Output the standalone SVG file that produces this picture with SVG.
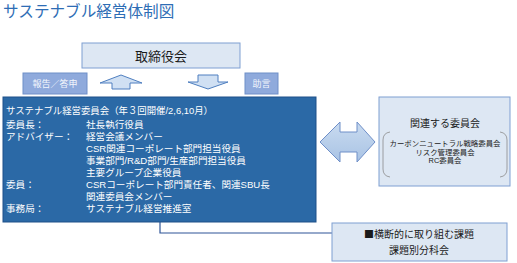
<svg xmlns="http://www.w3.org/2000/svg" width="517" height="263" viewBox="0 0 517 263">
<style>
text{font-family:"Liberation Sans","Noto Sans CJK JP",sans-serif;}
.light{fill:#dde7f3;stroke:#7f9fd2;stroke-width:1;}
.tag{fill:#8faadc;stroke:#6f8fc8;stroke-width:1;}
.tagt{fill:#f4f7fc;font-size:9px;text-anchor:middle;}
.arrow{fill:#d0e0f3;stroke:#4f7fc0;stroke-width:1;}
.wt{fill:#ffffff;font-size:9.6px;}
.dk{fill:#1a1a1a;}
.conn{fill:none;stroke:#2f5597;stroke-width:1.2;}
.cjk{font-family:"Noto Sans CJK JP",sans-serif;}
</style>
<defs>
<linearGradient id="g1" x1="0" y1="0" x2="0" y2="1">
<stop offset="0" stop-color="#c9dbf0"/>
<stop offset="1" stop-color="#a9c3e4"/>
</linearGradient>
</defs>
<text x="3" y="17" font-size="15.6" fill="#2e6db5">サステナブル経営体制図</text>

<g id="connectors">
<polyline class="conn" points="160,222 160,233 332,233"/>
<polygon class="arrow" points="121,75 142,83 130,83 130,89 112,89 112,83 100,83"/>
<polygon class="arrow" points="198,75 218,75 218,82 228,82 208,89 188,82 198,82"/>
<polygon fill="url(#g1)" stroke="#6f8fc8" stroke-width="1" points="320,142 340,122 340,132 357,132 357,122 375,142 357,162 357,152 340,152 340,162"/>
</g>

<g id="board">
<rect class="light" x="82" y="43" width="158" height="25"/>
<text class="dk" x="161" y="60.5" font-size="13" text-anchor="middle">取締役会</text>
</g>

<g id="report">
<rect class="tag" x="23" y="73" width="64" height="21"/>
<text class="tagt" x="55" y="87.2">報告／答申</text>
</g>

<g id="advice">
<rect class="tag" x="245" y="73" width="33" height="21"/>
<text class="tagt" x="261.5" y="87.2">助言</text>
</g>

<g id="committee">
<rect x="3" y="97" width="313" height="125" fill="#2b69a6" stroke="#1f5189" stroke-width="1"/>
<text class="wt" x="6" y="114" textLength="207" lengthAdjust="spacingAndGlyphs">サステナブル経営委員会（年３回開催/2,6,10月）</text>
<text class="wt" x="6" y="127.5">委員長：</text>
<text class="wt" x="86" y="127.5">社長執行役員</text>
<text class="wt" x="6" y="139.5">アドバイザー：</text>
<text class="wt" x="86" y="139.5">経営会議メンバー</text>
<text class="wt" x="86" y="151.5">CSR関連コーポレート部門担当役員</text>
<text class="wt" x="86" y="163.5">事業部門/R&amp;D部門/生産部門担当役員</text>
<text class="wt" x="86" y="175.5">主要グループ企業役員</text>
<text class="wt" x="6" y="187.5">委員：</text>
<text class="wt" x="86" y="187.5">CSRコーポレート部門責任者、関連SBU長</text>
<text class="wt" x="86" y="199.5">関連委員会メンバー</text>
<text class="wt" x="6" y="211.5">事務局：</text>
<text class="wt" x="86" y="211.5">サステナブル経営推進室</text>
</g>

<g id="related">
<rect class="light" x="379" y="97" width="131" height="89"/>
<text class="dk" x="445" y="127" font-size="10" text-anchor="middle">関連する委員会</text>
<path d="M390,132 Q383,133 383,140 L383,169 Q383,176 390,177" fill="none" stroke="#8c8c8c" stroke-width="0.8"/>
<path d="M500,132 Q507,133 507,140 L507,169 Q507,176 500,177" fill="none" stroke="#8c8c8c" stroke-width="0.8"/>
<text class="dk" x="445" y="145.5" font-size="7.4" text-anchor="middle">カーボンニュートラル戦略委員会</text>
<text class="dk" x="445" y="154.5" font-size="7.4" text-anchor="middle">リスク管理委員会</text>
<text class="dk" x="445" y="163" font-size="7.4" text-anchor="middle">RC委員会</text>
</g>

<g id="subcommittee">
<rect class="light" x="332" y="223" width="175" height="38"/>
<text class="dk" x="419" y="238" font-size="10" text-anchor="middle"><tspan class="cjk">■</tspan>横断的に取り組む課題</text>
<text class="dk" x="419" y="253.5" font-size="10" text-anchor="middle">課題別分科会</text>
</g>
</svg>
